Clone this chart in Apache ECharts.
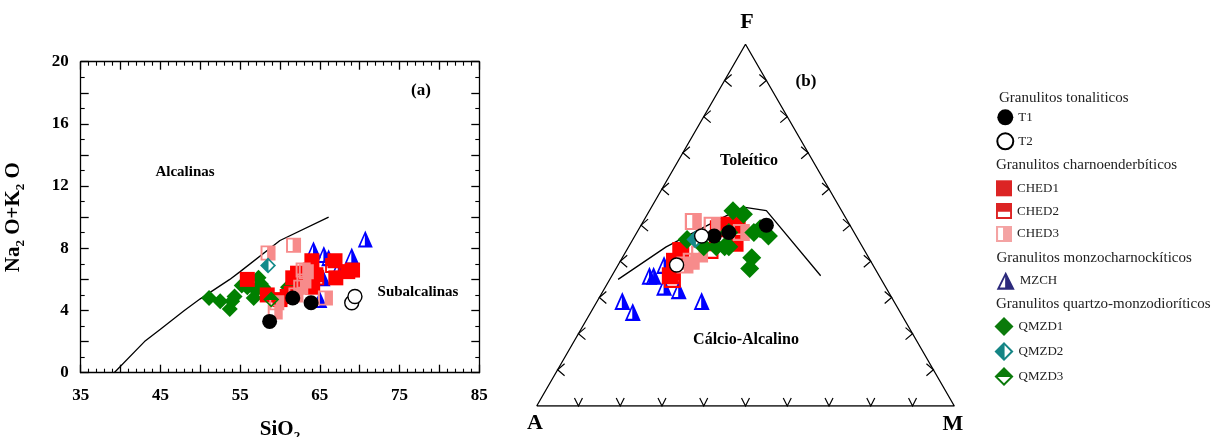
<!DOCTYPE html>
<html>
<head>
<meta charset="utf-8">
<script src="https://cdn.jsdelivr.net/npm/echarts@6/dist/echarts.min.js"></script>
<style>html,body{margin:0;padding:0;background:#fff;}#c{width:1219px;height:437px;}</style>
</head>
<body>
<div id="c"></div>
<script>
// ---------- (a) SiO2 vs Na2O+K2O ----------
const xTickLabels = [35, 45, 55, 65, 75, 85];
const yTickLabels = [0, 4, 8, 12, 16, 20];
const tasBoundary = [[39.2,0],[43,2],[45,2.8],[48,4],[50,4.75],[53.7,6],[55,6.5],[60,8.5],[66.1,10]];
const tasT1 = [[58.7,3.3],[61.6,4.8],[63.9,4.5]];
const tasT2 = [[69.0,4.5],[69.4,4.9]];
const tasCHED1 = [[55.9,6.0],[58.4,5.0],[60.0,4.7],[60.9,4.9],[61.4,5.1],[61.6,6.1],[62.2,6.4],[62.7,5.7],[63.8,6.6],[64.0,7.2],[64.1,5.5],[64.5,6.3],[66.9,7.2],[67.0,6.1],[68.5,6.5],[69.1,6.6]];
const tasCHED2 = [[66.6,6.9],[64.6,6.1]];
const tasCHED3 = [[58.5,7.7],[61.7,8.2],[62.9,6.6],[63.3,6.5],[62.6,5.5],[62.0,5.0],[59.6,4.5],[59.4,3.9],[65.7,4.8],[63.0,5.9]];
const tasMZCH = [[64.2,7.9],[65.5,7.6],[66.1,7.4],[69.0,7.5],[70.7,8.6],[65.4,6.1],[65.0,4.7],[67.3,6.7]];
const tasQMZD1 = [[51.1,4.8],[52.5,4.6],[53.7,4.1],[54.0,4.6],[54.3,4.9],[55.2,5.6],[55.9,5.5],[56.7,4.8],[57.0,5.3],[57.3,6.1],[57.6,5.7],[57.9,5.5],[58.4,5.1],[61.0,5.5]];
const tasQMZD2 = [[58.5,6.9]];
const tasQMZD3 = [[58.9,4.7]];

// ---------- (b) AFM ternary, values as [A, F, M] in % ----------
const afmBoundary = [[63,35,2],[47,44,9],[34,50,16],[23,55,22],[18,54,28],[14,36,50]];
const afmT1 = [[20,50,30],[34,47,19],[30,48,22]];
const afmT2 = [[47,39,14],[37,47,16]];
const afmCHED1 = [[44,43,13],[47,40,13],[50,36,14],[29,50,21],[30,45,25],[32,49,19],[27,50,23]];
const afmCHED2 = [[37,43,20],[50,35,15]];
const afmCHED3 = [[37,51,12],[33,50,17],[27,48,25],[43,40,17],[40,42,18],[45,39,16]];
const afmMZCH = [[65,29,6],[64,26,10],[55,36,9],[54,36,10],[50,39,11],[53,33,14],[50,32,18],[46,29,25]];
const afmQMZD1 = [[26,54,20],[24,53,23],[30,48,22],[24,48,28],[21,47,32],[33,44,23],[35,44,21],[32,44,24],[28,41,31],[30,38,32],[41,46,13],[38,44,18],[22,49,29]];
const afmQMZD2 = [[39,46,15]];
const afmTickSteps = [10,20,30,40,50,60,70,80,90];
const afmVertices = [[100,0,0],[0,0,100],[0,100,0],[100,0,0]];

const FONT = 'Liberation Serif';
const S3 = Math.sqrt(3) / 2;
function toXY(p) { const s = p[0] + p[1] + p[2]; return [(p[2] + p[1] / 2) / s, (p[1] / s) * S3]; }

// half-filled symbols (outer shape minus an inner hole)
const SYM_CHED2 = 'path://M0 0L100 0L100 100L0 100ZM12 54L12 87L88 87L88 54Z';
const SYM_CHED3 = 'path://M0 0L100 0L100 100L0 100ZM13 12L13 88L44 88L44 12Z';
const SYM_MZCH = 'path://M50 0L100 100L0 100ZM47 28L18 88L47 88Z';
const SYM_QMZD2 = 'path://M50 0L100 50L50 100L0 50ZM53 17L53 83L85 50Z';
const SYM_QMZD3 = 'path://M50 0L100 50L50 100L0 50ZM17 53L50 85L83 53Z';

const C_RED = '#ff0000', C_PINK = '#f78b8b', C_BLUE = '#0000ff', C_GREEN = '#008000', C_TEAL = '#148a8a';

const styles = {
  T1: { symbol: 'circle', itemStyle: { color: '#000', opacity: 1 } },
  T2: { symbol: 'circle', itemStyle: { color: '#fff', borderColor: '#000', borderWidth: 1.4, opacity: 1 } },
  CHED1: { symbol: 'rect', itemStyle: { color: C_RED, opacity: 1 } },
  CHED2: { symbol: SYM_CHED2, itemStyle: { color: C_RED, opacity: 1 } },
  CHED3: { symbol: SYM_CHED3, itemStyle: { color: C_PINK, opacity: 1 } },
  MZCH: { symbol: SYM_MZCH, itemStyle: { color: C_BLUE, opacity: 1 } },
  QMZD1: { symbol: 'diamond', itemStyle: { color: C_GREEN, opacity: 1 } },
  QMZD2: { symbol: SYM_QMZD2, itemStyle: { color: C_TEAL, opacity: 1 } },
  QMZD3: { symbol: SYM_QMZD3, itemStyle: { color: C_GREEN, opacity: 1 } }
};
const sizesTas = { T1: 15, T2: 14, CHED1: 15, CHED2: 15, CHED3: 15, MZCH: [15, 17], QMZD1: 16, QMZD2: 16, QMZD3: 16 };
const sizesAfm = { T1: 15, T2: 14, CHED1: 17, CHED2: 17, CHED3: 17, MZCH: [16, 18], QMZD1: 19, QMZD2: 18, QMZD3: 18 };
function scat(name, data, xi, yi, sizes) {
  return Object.assign({ type: 'scatter', name: name, xAxisIndex: xi, yAxisIndex: yi, data: data, z: 3, silent: true, symbolSize: sizes[name] }, styles[name]);
}

const tasOrder = [['MZCH', tasMZCH], ['QMZD1', tasQMZD1], ['CHED1', tasCHED1], ['CHED2', tasCHED2], ['CHED3', tasCHED3], ['QMZD2', tasQMZD2], ['QMZD3', tasQMZD3], ['T1', tasT1], ['T2', tasT2]];
const afmOrder = [['MZCH', afmMZCH], ['CHED1', afmCHED1], ['CHED2', afmCHED2], ['CHED3', afmCHED3], ['QMZD1', afmQMZD1], ['QMZD2', afmQMZD2], ['T1', afmT1], ['T2', afmT2]];

const tickData = [];
afmTickSteps.forEach(t => {
  const b = toXY([100 - t, 0, t]); tickData.push([b[0], b[1], 0]);
  const l = toXY([100 - t, t, 0]); tickData.push([l[0], l[1], 1]);
  const r = toXY([0, t, 100 - t]); tickData.push([r[0], r[1], 2]);
});

const axLine = { color: '#000', width: 1.3 };
const labelStyle = { fontFamily: FONT, fontWeight: 'bold', fontSize: 17, color: '#000' };
const nameRich = {
  a: { fontFamily: FONT, fontWeight: 'bold', fontSize: 21, color: '#000', lineHeight: 26 },
  s: { fontFamily: FONT, fontWeight: 'bold', fontSize: 13, color: '#000', lineHeight: 11, verticalAlign: 'bottom' }
};

function xAx(pos, showLabel) {
  return {
    gridIndex: 0, type: 'value', min: 35, max: 85, interval: 5, position: pos,
    axisLine: { show: true, onZero: false, lineStyle: axLine },
    axisTick: { show: true, inside: true, length: 8, lineStyle: axLine },
    minorTick: { show: true, splitNumber: 5, length: 4, lineStyle: { color: '#000', width: 1.1 } },
    splitLine: { show: false },
    axisLabel: Object.assign({ show: showLabel, margin: 14, formatter: v => xTickLabels.includes(v) ? String(v) : '' }, labelStyle)
  };
}
function yAx(pos, showLabel) {
  return {
    gridIndex: 0, type: 'value', min: 0, max: 20, interval: 2, position: pos,
    axisLine: { show: true, onZero: false, lineStyle: axLine },
    axisTick: { show: true, inside: true, length: 8, lineStyle: axLine },
    minorTick: { show: true, splitNumber: 2, length: 4, lineStyle: { color: '#000', width: 1.1 } },
    splitLine: { show: false },
    axisLabel: Object.assign({ show: showLabel, margin: 12, formatter: v => yTickLabels.includes(v) ? String(v) : '' }, labelStyle)
  };
}
const xa0 = xAx('bottom', true);
xa0.name = '{a|SiO}{s|2}'; xa0.nameLocation = 'middle'; xa0.nameGap = 44; xa0.nameTextStyle = { rich: nameRich };
const xaTop = xAx('top', false);
const ya0 = yAx('left', true);
ya0.name = '{a|Na}{s|2}{a| O+K}{s|2}{a| O}'; ya0.nameLocation = 'middle'; ya0.nameGap = 54; ya0.nameTextStyle = { rich: nameRich };
const yaRight = yAx('right', false);

const legendText = { fontFamily: FONT, fontSize: 13, color: '#222' };
function leg(names, top, left, size, gap, textGap) {
  return {
    orient: 'vertical', left: left, top: top, padding: 0, itemWidth: size, itemHeight: size, itemGap: gap, itemTextGap: textGap,
    selectedMode: false, textStyle: legendText, data: names
  };
}

const series = [];
series.push({ type: 'line', xAxisIndex: 0, yAxisIndex: 0, data: tasBoundary, symbol: 'none', lineStyle: { color: '#000', width: 1.3 }, silent: true, z: 2 });
tasOrder.forEach(([n, d]) => series.push(scat(n, d, 0, 0, sizesTas)));
series.push({ type: 'line', xAxisIndex: 2, yAxisIndex: 2, data: afmVertices.map(toXY), symbol: 'none', lineStyle: { color: '#000', width: 1.3 }, silent: true, z: 2 });
series.push({ type: 'line', xAxisIndex: 2, yAxisIndex: 2, data: afmBoundary.map(toXY), symbol: 'none', lineStyle: { color: '#000', width: 1.3 }, silent: true, z: 2 });
series.push({
  type: 'custom', xAxisIndex: 2, yAxisIndex: 2, data: tickData, silent: true, clip: false, z: 2,
  renderItem: function (params, api) {
    const pt = api.coord([api.value(0), api.value(1)]);
    const s = api.value(2);
    let a, b;
    if (s === 0) { a = [-4, -8]; b = [4, -8]; }
    else if (s === 1) { a = [7, -6]; b = [7, 6]; }
    else { a = [-7, -6]; b = [-7, 6]; }
    return { type: 'polyline', shape: { points: [[pt[0] + a[0], pt[1] + a[1]], pt, [pt[0] + b[0], pt[1] + b[1]]] }, style: { stroke: '#000', lineWidth: 1.2, fill: null } };
  }
});
afmOrder.forEach(([n, d]) => series.push(scat(n, d.map(toXY), 2, 2, sizesAfm)));

function txt(text, x, y, size, bold) {
  return { type: 'text', x: x, y: y, silent: true, style: { text: text, font: (bold ? 'bold ' : '') + size + 'px "' + FONT + '"', fill: '#000', align: 'center', verticalAlign: 'middle' } };
}
function ltxt(text, x, y) {
  return { type: 'text', x: x, y: y, silent: true, style: { text: text, font: '15px "' + FONT + '"', fill: '#222', align: 'left', verticalAlign: 'middle' } };
}

const option = {
  animation: false,
  backgroundColor: '#fff',
  grid: [
    { left: 80.7, top: 61.7, width: 398.6, height: 311, containLabel: false, outerBoundsMode: 'none' },
    { left: 536.7, top: 44.3, width: 417.6, height: 361.7, containLabel: false, outerBoundsMode: 'none' }
  ],
  xAxis: [
    xa0,
    xaTop,
    { gridIndex: 1, type: 'value', min: 0, max: 1, show: false }
  ],
  yAxis: [
    ya0,
    yaRight,
    { gridIndex: 1, type: 'value', min: 0, max: S3, show: false }
  ],
  legend: [
    leg(['T1', 'T2'], 109.3, 996.3, 16, 7, 9),
    leg([{ name: 'CHED1', itemStyle: { color: '#dc2424' } }, { name: 'CHED2', itemStyle: { color: '#dc2424' } }, { name: 'CHED3', itemStyle: { color: '#f4a3a3' } }], 180.3, 996, 16, 6.8, 7),
    leg([{ name: 'MZCH', itemStyle: { color: '#2c2a7c' } }], 271.7, 996.7, 18, 6, 6),
    leg([{ name: 'QMZD1', itemStyle: { color: '#0b7a0b' } }, { name: 'QMZD2', itemStyle: { color: '#148585' } }, { name: 'QMZD3', itemStyle: { color: '#0b7a0b' } }], 317, 994.5, 19, 6, 5)
  ],
  graphic: [
    txt('Alcalinas', 185, 172, 15, true),
    txt('Subalcalinas', 418, 292, 15, true),
    txt('(a)', 421, 91, 17, true),
    txt('F', 747, 22, 22, true),
    txt('A', 535, 423, 22, true),
    txt('M', 953, 424, 22, true),
    txt('(b)', 806, 82, 17, true),
    txt('Toleítico', 749, 161, 16, true),
    txt('Cálcio-Alcalino', 746, 340, 16, true),
    ltxt('Granulitos tonaliticos', 999, 98.5),
    ltxt('Granulitos charnoenderbíticos', 996, 165),
    ltxt('Granulitos monzocharnockíticos', 996.5, 258.5),
    ltxt('Granulitos quartzo-monzodioríticos', 996, 304)
  ],
  series: series
};
const chart = echarts.init(document.getElementById('c'), null, { renderer: 'canvas' });
chart.setOption(option);
</script>
</body>
</html>
